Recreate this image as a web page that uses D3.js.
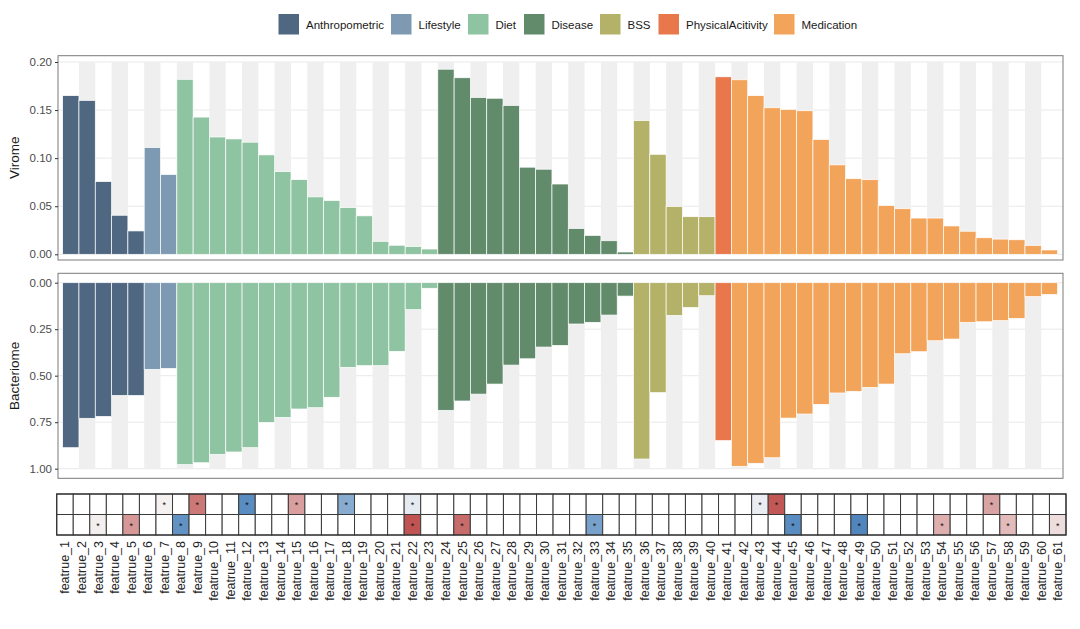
<!DOCTYPE html>
<html><head><meta charset="utf-8">
<script src="https://cdn.jsdelivr.net/npm/d3@7"></script>
<style>
body{margin:0;background:#fff;}
svg text{font-family:"Liberation Sans",Arial,Helvetica,sans-serif;}
</style></head>
<body><svg id="c" width="1080" height="629"></svg>
<script>
// ---------------- DATA ----------------
const features = ["featrue_1","featrue_2","featrue_3","featrue_4","featrue_5","featrue_6","featrue_7","featrue_8","featrue_9","featrue_10",
"featrue_11","featrue_12","featrue_13","featrue_14","featrue_15","featrue_16","featrue_17","featrue_18","featrue_19","featrue_20",
"featrue_21","featrue_22","featrue_23","featrue_24","featrue_25","featrue_26","featrue_27","featrue_28","featrue_29","featrue_30",
"featrue_31","featrue_32","featrue_33","featrue_34","featrue_35","featrue_36","featrue_37","featrue_38","featrue_39","featrue_40",
"featrue_41","featrue_42","featrue_43","featrue_44","featrue_45","featrue_46","featrue_47","featrue_48","featrue_49","featrue_50",
"featrue_51","featrue_52","featrue_53","featrue_54","featrue_55","featrue_56","featrue_57","featrue_58","featrue_59","featrue_60","featrue_61"];
const groupNames  = ["Anthropometric","Lifestyle","Diet","Disease","BSS","PhysicalAcitivity","Medication"];
const groupCounts = [5, 2, 16, 12, 5, 1, 20];
const groupColors = ["#4f6781","#7e9ab3","#8fc4a2","#628b6c","#b3b268","#e9774c","#f3a45b"];

const virome = [0.165,0.160,0.0756,0.0406,0.0243,0.111,0.083,
  0.182,0.1427,0.122,0.120,0.1166,0.1034,0.086,0.0777,0.0597,0.0559,0.0486,0.040,0.0135,0.0094,0.008,0.0055,
  0.1925,0.1836,0.163,0.1623,0.1548,0.0906,0.0885,0.0731,0.0268,0.0196,0.0141,0.0024,
  0.139,0.104,0.0498,0.0391,0.0391,
  0.1846,
  0.1815,0.165,0.1524,0.1507,0.1493,0.1194,0.093,0.0786,0.0776,0.0508,0.0474,0.0377,0.0377,0.0295,0.024,0.0172,0.0158,0.0151,0.0093,0.0045];
const bacteriome = [0.887,0.729,0.719,0.606,0.606,0.466,0.461,
  0.978,0.968,0.923,0.910,0.887,0.751,0.724,0.679,0.672,0.616,0.455,0.446,0.446,0.369,0.145,0.030,
  0.686,0.636,0.599,0.545,0.443,0.409,0.346,0.337,0.222,0.213,0.174,0.072,
  0.948,0.591,0.176,0.133,0.070,
  0.849,
  0.987,0.971,0.941,0.728,0.706,0.654,0.593,0.584,0.563,0.545,0.382,0.371,0.312,0.303,0.213,0.210,0.204,0.192,0.075,0.063];
const viromeTicks = [0, 0.05, 0.10, 0.15, 0.20];
const bacteriomeTicks = [0, 0.25, 0.50, 0.75, 1.00];
// heatmap rows (value = association; all shown cells are significant "*")
const heatTopFeat  = ["featrue_7","featrue_9","featrue_12","featrue_15","featrue_18","featrue_22","featrue_43","featrue_44","featrue_57"];
const heatTopVal   = [0.03, 0.64, -0.74, 0.44, -0.52, -0.08, -0.06, 0.80, 0.42];
const heatBotFeat  = ["featrue_3","featrue_5","featrue_8","featrue_22","featrue_25","featrue_33","featrue_45","featrue_49","featrue_54","featrue_58","featrue_61"];
const heatBotVal   = [0.04, 0.48, -0.70, 0.82, 0.70, -0.60, -0.74, -0.78, 0.36, 0.30, 0.13];

// ---------------- BUILD ----------------
const featGroup = [];
groupNames.forEach((g,i)=>{ for(let k=0;k<groupCounts[i];k++) featGroup.push(g); });
const color = d3.scaleOrdinal().domain(groupNames).range(groupColors);
const rows = features.map((f,i)=>({f, g:featGroup[i], v:virome[i], b:bacteriome[i], idx:i}));

const svg = d3.select("#c");
const PL=58, PR=1063;
const x = d3.scaleBand().domain(features).range([62.65,1057.6]).padding(0);
const xh = d3.scaleBand().domain(features).range([56.7,1066]).padding(0);

const yTop = d3.scaleLinear().domain([0,0.2]).range([254.3,62]);
const yBot = d3.scaleLinear().domain([0,1]).range([282.7,468.7]);
const panels = [
  {y:yTop, top:55.7, bot:260, key:"v", ticks:viromeTicks, title:"Virome", max:0.2},
  {y:yBot, top:273.3, bot:478.3, key:"b", ticks:bacteriomeTicks, title:"Bacteriome", max:1.0}
];

panels.forEach(p=>{
  const g = svg.append("g");
  g.selectAll(".grid").data(p.ticks).join("line")
    .attr("x1",PL).attr("x2",PR).attr("y1",d=>p.y(d)).attr("y2",d=>p.y(d))
    .attr("stroke","#e6e6e6").attr("stroke-width",0.9);
  g.selectAll(".stripe").data(rows.filter(r=>r.idx%2===1)).join("rect")
    .attr("x",d=>x(d.f)).attr("width",x.bandwidth())
    .attr("y",d=>Math.min(p.y(0),p.y(p.max))).attr("height",Math.abs(p.y(p.max)-p.y(0)))
    .attr("fill","#efefef");
  g.selectAll(".bar").data(rows).join("rect")
    .attr("x",d=>x(d.f)).attr("width",x.bandwidth())
    .attr("y",d=>Math.min(p.y(0),p.y(d[p.key])))
    .attr("height",d=>Math.abs(p.y(d[p.key])-p.y(0)))
    .attr("fill",d=>color(d.g)).attr("stroke","#ffffff").attr("stroke-width",0.7);
  g.append("rect").attr("x",PL).attr("y",p.top).attr("width",PR-PL).attr("height",p.bot-p.top)
    .attr("fill","none").attr("stroke","#7a7a7a").attr("stroke-width",1);
  const ax = svg.append("g").attr("transform",`translate(${PL},0)`)
    .call(d3.axisLeft(p.y).tickValues(p.ticks).tickFormat(d3.format(".2f")).tickSize(3).tickPadding(3));
  ax.select(".domain").remove();
  ax.selectAll("line").attr("stroke","#333");
  ax.selectAll("text").attr("fill","#4d4d4d").style("font-size","11.5px").style("font-family","Liberation Sans, Arial");
  svg.append("text").attr("transform",`translate(19,${(p.top+p.bot)/2}) rotate(-90)`)
    .attr("text-anchor","middle").attr("fill","#1a1a1a").style("font-size","13.5px").text(p.title);
});

// heatmap
const hc = d3.scaleLinear().domain([-1,0,1]).range(["#2166ac","#f7f7f7","#b3302e"]);
const hTop=494, hMid=514.5, hBot=535;
const hrows = [
  {y0:hTop, y1:hMid, feat:heatTopFeat, val:heatTopVal},
  {y0:hMid, y1:hBot, feat:heatBotFeat, val:heatBotVal}
];
hrows.forEach(r=>{
  const cells = features.map(f=>{ const k=r.feat.indexOf(f); return {f, v: k<0?null:r.val[k]}; });
  svg.append("g").selectAll("rect").data(cells).join("rect")
    .attr("x",d=>xh(d.f)).attr("width",xh.bandwidth()).attr("y",r.y0).attr("height",r.y1-r.y0)
    .attr("fill",d=>d.v===null?"#ffffff":hc(d.v)).attr("stroke","#3a3a3a").attr("stroke-width",1);
  svg.append("g").selectAll("text").data(cells.filter(d=>d.v!==null)).join("text")
    .attr("x",d=>xh(d.f)+xh.bandwidth()/2).attr("y",(r.y0+r.y1)/2+4)
    .attr("text-anchor","middle").style("font-size","9px").attr("fill","#111").text("*");
});
svg.append("rect").attr("x",56.7).attr("y",hTop).attr("width",1066-56.7).attr("height",hBot-hTop)
  .attr("fill","none").attr("stroke","#333").attr("stroke-width",1.2);

// x labels
svg.append("g").selectAll("text").data(features).join("text")
  .attr("transform",d=>`translate(${xh(d)+xh.bandwidth()/2+4.5},541) rotate(-90)`)
  .attr("text-anchor","end").attr("fill","#262626").style("font-size","12.5px").text(d=>d);

// legend
const legX = [278.5,391,468,524,600,658.5,774];
const lg = svg.append("g");
groupNames.forEach((n,i)=>{
  lg.append("rect").attr("x",legX[i]).attr("y",14).attr("width",20.5).attr("height",20.5).attr("fill",groupColors[i]);
  lg.append("text").attr("x",legX[i]+27.5).attr("y",28.5).style("font-size","11.5px").attr("fill","#1a1a1a").text(n);
});
</script></body></html>
